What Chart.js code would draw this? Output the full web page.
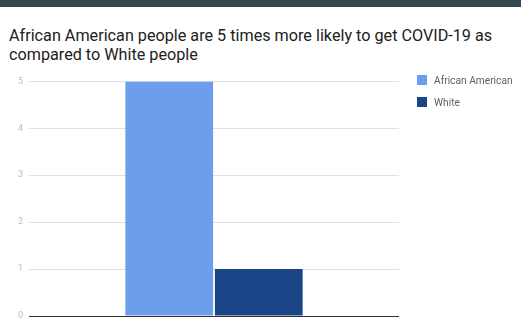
<!DOCTYPE html>
<html>
<head>
<meta charset="utf-8">
<script src="https://cdn.jsdelivr.net/npm/chart.js@4"></script>
<style>
  html, body { margin: 0; padding: 0; background: #fff; width: 521px; height: 334px; overflow: hidden; }
  #topbar { position: absolute; left: 0; top: 0; width: 521px; height: 7px; background: #37474f; }
  #title { position: absolute; left: 9px; top: 26px; font-family: Roboto, "Noto Sans", sans-serif;
           font-size: 16.2px; line-height: 19px; color: #212121; }
  #wrap { position: absolute; left: 0; top: 70px; width: 521px; height: 264px; }
  #legend { position: absolute; left: 417px; top: 75px; font-family: Roboto, "Noto Sans", sans-serif;
            font-size: 10.2px; color: #5f5f5f; }
  #legend .item { display: flex; align-items: center; height: 10px; margin-bottom: 12px; }
  #legend .sw { width: 10px; height: 10px; margin-right: 7px; }
</style>
</head>
<body>
<div id="topbar"></div>
<div id="title"></div>
<div id="wrap"><canvas id="c" width="521" height="264"></canvas></div>
<div id="legend"></div>
<script>
const titleLines = ["African American people are 5 times more likely to get COVID-19 as", "compared to White people"];
const categories = [""];
const seriesNames = ["African American", "White"];
const africanAmerican = [5];
const white = [1];
const seriesColors = ["#6d9eeb", "#1c4587"];
const yTicks = [0, 1, 2, 3, 4, 5];

document.getElementById("title").innerHTML = titleLines.join("<br>");

const seriesValues = [africanAmerican, white];
const legend = document.getElementById("legend");
seriesNames.forEach((name, i) => {
  const item = document.createElement("div");
  item.className = "item";
  const sw = document.createElement("div");
  sw.className = "sw";
  sw.style.background = seriesColors[i];
  const tx = document.createElement("span");
  tx.textContent = name;
  item.appendChild(sw);
  item.appendChild(tx);
  legend.appendChild(item);
});

new Chart(document.getElementById("c"), {
  type: "bar",
  data: {
    labels: categories,
    datasets: seriesNames.map((name, i) => ({
      label: name,
      data: seriesValues[i],
      backgroundColor: seriesColors[i],
      borderWidth: 0,
      categoryPercentage: 0.484,
      barPercentage: 0.98
    }))
  },
  options: {
    responsive: false,
    animation: false,
    layout: { padding: { left: 0, top: 10, right: 122, bottom: 18 } },
    plugins: { legend: { display: false }, title: { display: false }, tooltip: { enabled: false } },
    scales: {
      x: { display: false },
      y: {
        min: yTicks[0],
        max: yTicks[yTicks.length - 1],
        afterFit: (s) => { s.width = 29; },
        afterBuildTicks: (s) => { s.ticks = yTicks.map(v => ({ value: v })); },
        border: { display: false },
        grid: {
          drawTicks: false,
          color: (ctx) => ctx.tick && ctx.tick.value === 0 ? "#333333" : "#e0e0e0"
        },
        ticks: {
          padding: 6,
          color: "#bdbdbd",
          font: { family: "Roboto", size: 9 }
        }
      }
    }
  }
});
</script>
</body>
</html>
